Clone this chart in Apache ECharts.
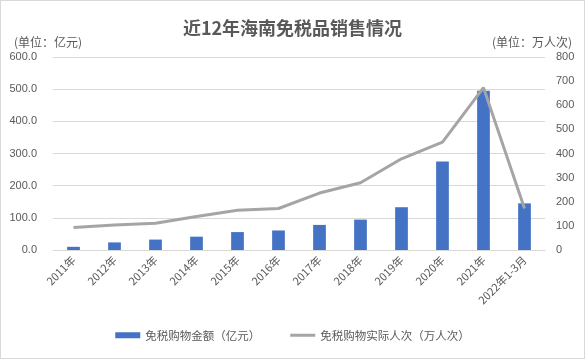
<!DOCTYPE html>
<html><head><meta charset="utf-8">
<script src="https://cdn.jsdelivr.net/npm/echarts@6/dist/echarts.min.js"></script>
<style>
html,body{margin:0;padding:0;background:#fff;}
#c{position:absolute;left:0;top:0;width:583px;height:357px;border:1px solid #d9d9d9;}
</style></head>
<body><div id="c"></div>
<script>
const categories = ['2011年','2012年','2013年','2014年','2015年','2016年','2017年','2018年','2019年','2020年','2021年','2022年1-3月'];
const salesAmount = [9.9, 23.6, 32.4, 41.4, 55.7, 60.7, 78.0, 94.5, 133.0, 274.8, 495.0, 145.0];
const shoppers = [93, 104, 111, 139, 165, 172, 236, 279, 378, 447, 673, 172];
const leftTicks = {min: 0, max: 600, interval: 100};
const rightTicks = {min: 0, max: 800, interval: 100};

const chart = echarts.init(document.getElementById('c'));
const txt = '#595959';
chart.setOption({
  animation: false,
  title: {text: '近12年海南免税品销售情况', left: 'center', top: 13,
    textStyle: {fontSize: 18, fontWeight: 'bold', color: txt, fontFamily: 'Noto Sans CJK SC'}},
  grid: {left: 52, right: 39, top: 56, bottom: 108},
  legend: {bottom: 12, left: 'center', itemGap: 30, itemWidth: 25, itemHeight: 6,
    textStyle: {fontSize: 11.5, color: txt, fontFamily: 'Noto Sans CJK SC'},
    data: [{name: '免税购物金额（亿元）', icon: 'rect'},
           {name: '免税购物实际人次（万人次）', icon: 'path://M0,0H0.5V0.01H0Z M0,1.5H25V4.5H0Z M0,5.99H0.5V6H0Z'}]},
  xAxis: {type: 'category', data: categories,
    axisLine: {lineStyle: {color: '#d9d9d9', width: 1}}, axisTick: {show: false},
    axisLabel: {rotate: 45, fontSize: 11, color: txt, interval: 0, margin: 8, fontFamily: 'Noto Sans CJK SC'}},
  yAxis: [
    {type: 'value', min: leftTicks.min, max: leftTicks.max, interval: leftTicks.interval,
     name: '(单位：亿元)', nameLocation: 'end', nameGap: 9,
     nameTextStyle: {color: txt, fontSize: 12, align: 'left', padding: [0,0,0,-39], fontFamily: 'Noto Sans CJK SC'},
     axisLabel: {formatter: v => v.toFixed(1), color: txt, fontSize: 11, margin: 16},
     splitLine: {lineStyle: {color: '#d9d9d9'}}, axisLine: {show: false}, axisTick: {show: false}},
    {type: 'value', min: rightTicks.min, max: rightTicks.max, interval: rightTicks.interval,
     name: '(单位：万人次)', nameLocation: 'end', nameGap: 9,
     nameTextStyle: {color: txt, fontSize: 12, align: 'right', padding: [0,-27,0,0], fontFamily: 'Noto Sans CJK SC'},
     axisLabel: {color: txt, fontSize: 11, margin: 11},
     splitLine: {show: false}, axisLine: {show: false}, axisTick: {show: false}}
  ],
  series: [
    {name: '免税购物金额（亿元）', type: 'bar', data: salesAmount, yAxisIndex: 0,
     barWidth: '31%', itemStyle: {color: '#4472c4'}},
    {name: '免税购物实际人次（万人次）', type: 'line', data: shoppers, yAxisIndex: 1,
     symbol: 'none', lineStyle: {color: '#a5a5a5', width: 3}, itemStyle: {color: '#a5a5a5'}}
  ]
});
</script></body></html>
